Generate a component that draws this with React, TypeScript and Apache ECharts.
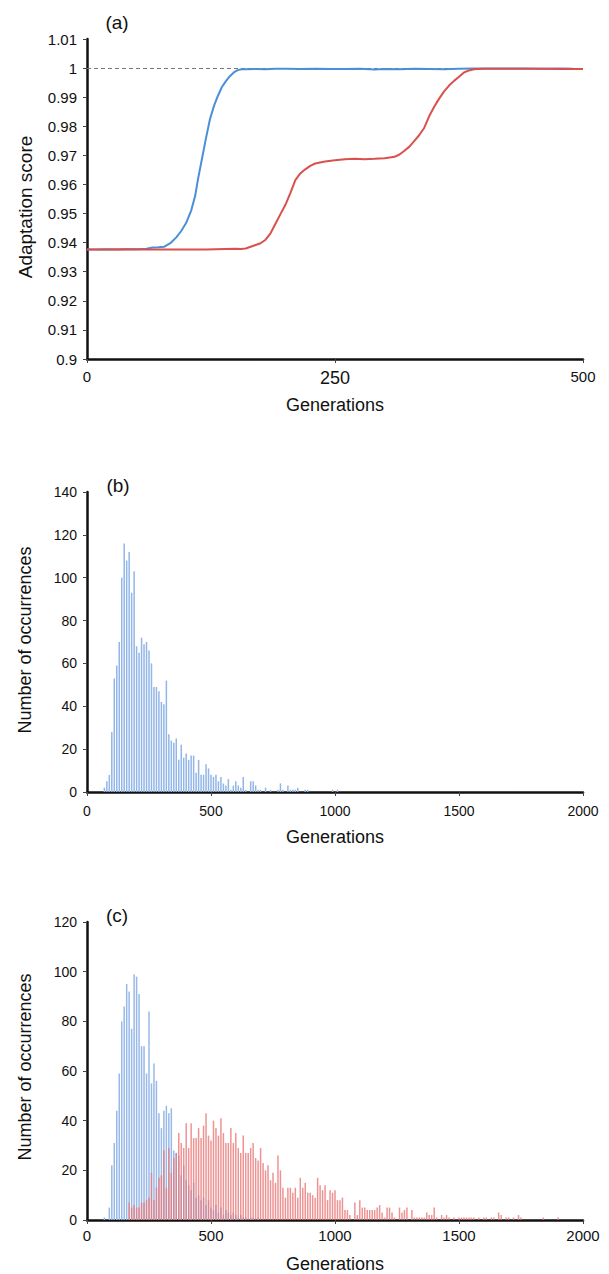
import React, { useEffect, useRef } from "react";
import * as echarts from "echarts";

// ---------- Panel (a): adaptation score over generations ----------
const blueGen = [0, 10, 20, 30, 40, 50, 60, 66, 72, 78, 84, 90, 95, 100, 105, 109, 112, 116, 120, 124, 128, 132, 136, 140, 144, 148, 152, 156, 160, 170, 180, 190, 200, 215, 230, 245, 260, 275, 290, 300, 315, 330, 345, 360, 375, 390, 400, 420, 440, 460, 480, 490];
const blueScore = [0.9376, 0.9376, 0.9377, 0.9376, 0.9377, 0.9377, 0.9379, 0.9383, 0.9384, 0.9386, 0.9398, 0.9418, 0.944, 0.9468, 0.951, 0.956, 0.962, 0.969, 0.976, 0.9825, 0.987, 0.9905, 0.9935, 0.9955, 0.9972, 0.9985, 0.9993, 0.9996, 0.9996, 0.9997, 0.9996, 0.9998, 0.9998, 0.9997, 0.9998, 0.9997, 0.9997, 0.9998, 0.9995, 0.9997, 0.9996, 0.9998, 0.9997, 0.9996, 0.9998, 0.9999, 0.9999, 0.9999, 0.9999, 0.9998, 0.9999, 0.9998];

const redGen = [0, 20, 40, 60, 80, 100, 120, 140, 150, 155, 160, 165, 170, 175, 180, 185, 190, 195, 200, 205, 210, 215, 220, 225, 230, 240, 250, 260, 270, 280, 290, 300, 310, 315, 320, 325, 330, 335, 340, 345, 350, 355, 360, 365, 370, 375, 380, 385, 390, 400, 420, 440, 460, 480, 500];
const redScore = [0.9376, 0.9376, 0.9377, 0.9376, 0.9376, 0.9376, 0.9376, 0.9378, 0.9379, 0.9378, 0.938, 0.9386, 0.9392, 0.9398, 0.941, 0.9432, 0.9465, 0.9498, 0.953, 0.957, 0.9615, 0.9638, 0.9652, 0.9664, 0.9672, 0.9679, 0.9683, 0.9687, 0.9688, 0.9687, 0.9688, 0.969, 0.9695, 0.9703, 0.9716, 0.973, 0.975, 0.977, 0.9795, 0.9835, 0.9867, 0.9895, 0.992, 0.994, 0.9956, 0.997, 0.9985, 0.9992, 0.9996, 0.9998, 0.9998, 0.9998, 0.9998, 0.9997, 0.9997];

const scoreTicksMin = 0.9;
const scoreTicksMax = 1.01;
const targetScore = 1;

// ---------- Panel (b): histogram (blue), bins of 10 generations ----------
const binWidth = 10;
const histBStart = 70;
const histBCounts = [2, 5, 8, 28, 53, 59, 70, 100, 116, 108, 112, 93, 103, 68, 65, 72, 69, 70, 66, 60, 49, 49, 47, 42, 41, 52, 27, 24, 23, 25, 15, 22, 16, 18, 15, 17, 17, 9, 15, 8, 8, 13, 11, 8, 7, 8, 5, 7, 4, 3, 6, 1, 3, 5, 3, 2, 7, 1, 0, 5, 5, 3, 1, 1, 0, 2, 0, 1, 0, 0, 1, 4, 1, 0, 3, 1, 1, 1, 2, 0, 0, 1, 1, 0, 0, 0, 0, 0, 0, 0, 0, 0, 1, 0, 1];

// ---------- Panel (c): blue and red histograms ----------
const histCBlueStart = 70;
const histCBlueCounts = [1, 0, 5, 22, 31, 44, 59, 80, 86, 95, 92, 77, 99, 98, 91, 70, 70, 59, 84, 55, 63, 56, 43, 37, 44, 46, 43, 45, 28, 27, 26, 18, 22, 16, 14, 12, 15, 9, 10, 8, 9, 6, 8, 5, 4, 6, 3, 5, 2, 4, 3, 2, 3, 2, 1, 2, 1, 1, 0, 1, 1, 0, 1];
const histCRedStart = 170;
const histCRedCounts = [7, 5, 6, 5, 5, 7, 7, 8, 9, 19, 8, 13, 17, 18, 28, 13, 29, 19, 25, 27, 35, 31, 29, 39, 29, 39, 33, 33, 37, 33, 38, 43, 34, 32, 40, 37, 34, 41, 35, 31, 31, 37, 31, 35, 29, 27, 34, 27, 27, 29, 31, 25, 24, 29, 23, 20, 22, 16, 19, 15, 26, 20, 13, 9, 13, 13, 11, 13, 9, 17, 13, 15, 11, 11, 10, 9, 17, 14, 12, 14, 8, 12, 11, 12, 8, 8, 9, 4, 4, 2, 0, 7, 2, 8, 5, 5, 4, 4, 4, 4, 5, 6, 3, 1, 5, 5, 3, 1, 0, 5, 3, 4, 5, 0, 4, 1, 1, 1, 1, 1, 3, 2, 2, 5, 1, 0, 2, 1, 2, 1, 0, 1, 0, 1, 1, 1, 1, 1, 1, 1, 0, 1, 0, 1, 1, 0, 1, 1, 0, 3, 2, 0, 1, 1, 0, 1, 0, 2, 1, 0, 0, 0, 0, 0, 0, 0, 0, 1, 0, 0, 0, 0, 0, 1];

const panelLabels = ["(a)", "(b)", "(c)"];
const yTitles = ["Adaptation score", "Number of occurrences", "Number of occurrences"];
const xTitle = "Generations";

const FONT = "'Liberation Sans', Arial, Helvetica, sans-serif";

function pairs(xs: number[], ys: number[]) {
  return xs.map((x, i) => [x, ys[i]]);
}
function bins(start: number, counts: number[]) {
  return counts.map((c, i) => [start + i * binWidth, c]);
}

export default function App() {
  const ref = useRef<HTMLDivElement>(null);

  useEffect(() => {
    document.body.style.margin = "0";
    if (!ref.current) return;
    const chart = echarts.init(ref.current, undefined, { renderer: "svg" });

    const axisLine = { show: true, lineStyle: { color: "#111", width: 2.5 } };
    const axisTick = { show: true, inside: false, length: 4, lineStyle: { color: "#444", width: 1 } };
    const plain = (v: number) => String(v);

    const option: any = {
      animation: false,
      backgroundColor: "#fff",
      textStyle: { fontFamily: FONT },
      grid: [
        { left: 87, top: 39, width: 496, height: 320 },
        { left: 87, top: 492, width: 496, height: 300 },
        { left: 87, top: 922, width: 496, height: 300 },
      ],
      xAxis: [
        {
          type: "value", gridIndex: 0, min: 0, max: 500, interval: 250,
          axisLine, axisTick, splitLine: { show: false },
          axisLabel: {
            margin: 10, color: "#111",
            formatter: (v: number) => (v === 250 ? `{b|${v}}` : `{s|${v}}`),
            rich: { s: { fontSize: 15, fontFamily: FONT, color: "#111" }, b: { fontSize: 18, fontFamily: FONT, color: "#111" } },
          },
          name: xTitle, nameLocation: "middle", nameGap: 37,
          nameTextStyle: { fontSize: 18, color: "#111", fontFamily: FONT },
        },
        {
          type: "value", gridIndex: 1, min: 0, max: 2000, interval: 500,
          axisLine, axisTick, splitLine: { show: false },
          axisLabel: { margin: 12, fontSize: 14, color: "#111", fontFamily: FONT, formatter: plain },
          name: xTitle, nameLocation: "middle", nameGap: 36,
          nameTextStyle: { fontSize: 18, color: "#111", fontFamily: FONT },
        },
        {
          type: "value", gridIndex: 2, min: 0, max: 2000, interval: 500,
          axisLine, axisTick, splitLine: { show: false },
          axisLabel: { margin: 8, fontSize: 15, color: "#111", fontFamily: FONT, formatter: plain },
          name: xTitle, nameLocation: "middle", nameGap: 35,
          nameTextStyle: { fontSize: 18, color: "#111", fontFamily: FONT },
        },
      ],
      yAxis: [
        {
          type: "value", gridIndex: 0, min: scoreTicksMin, max: scoreTicksMax, interval: 0.01,
          axisLine, axisTick, splitLine: { show: false },
          axisLabel: { margin: 10, fontSize: 15, color: "#111", fontFamily: FONT, formatter: (v: number) => String(+v.toFixed(2)) },
        },
        {
          type: "value", gridIndex: 1, min: 0, max: 140, interval: 20,
          axisLine, axisTick, splitLine: { show: false },
          axisLabel: { margin: 10, fontSize: 14, color: "#111", fontFamily: FONT, formatter: plain },
        },
        {
          type: "value", gridIndex: 2, min: 0, max: 120, interval: 20,
          axisLine, axisTick, splitLine: { show: false },
          axisLabel: { margin: 10, fontSize: 14, color: "#111", fontFamily: FONT, formatter: plain },
        },
      ],
      graphic: [
        { type: "text", x: 117, y: 22, style: { text: panelLabels[0], font: `19px ${FONT}`, fill: "#111", textAlign: "center", textVerticalAlign: "middle" } },
        { type: "text", x: 118, y: 485, style: { text: panelLabels[1], font: `19px ${FONT}`, fill: "#111", textAlign: "center", textVerticalAlign: "middle" } },
        { type: "text", x: 117, y: 915, style: { text: panelLabels[2], font: `19px ${FONT}`, fill: "#111", textAlign: "center", textVerticalAlign: "middle" } },
        { type: "text", x: 25, y: 207, rotation: Math.PI / 2, style: { text: yTitles[0], font: `19px ${FONT}`, fill: "#111", textAlign: "center", textVerticalAlign: "middle" } },
        { type: "text", x: 25, y: 640, rotation: Math.PI / 2, style: { text: yTitles[1], font: `18px ${FONT}`, fill: "#111", textAlign: "center", textVerticalAlign: "middle" } },
        { type: "text", x: 25, y: 1067, rotation: Math.PI / 2, style: { text: yTitles[2], font: `18px ${FONT}`, fill: "#111", textAlign: "center", textVerticalAlign: "middle" } },
      ],
      series: [
        {
          type: "line", xAxisIndex: 0, yAxisIndex: 0, data: pairs(blueGen, blueScore),
          showSymbol: false, symbol: "none", lineStyle: { color: "#4a8fd8", width: 2 }, z: 3,
          markLine: {
            silent: true, symbol: ["none", "none"], label: { show: false },
            lineStyle: { type: [4, 3], color: "#777", width: 1 },
            data: [{ yAxis: targetScore }], z: 1,
          },
        },
        {
          type: "line", xAxisIndex: 0, yAxisIndex: 0, data: pairs(redGen, redScore),
          showSymbol: false, symbol: "none", lineStyle: { color: "#d9504c", width: 2 }, z: 4,
        },
        {
          type: "bar", xAxisIndex: 1, yAxisIndex: 1, data: bins(histBStart, histBCounts),
          barWidth: 1.5, itemStyle: { color: "#92b6e8" },
        },
        {
          type: "bar", xAxisIndex: 2, yAxisIndex: 2, data: bins(histCBlueStart, histCBlueCounts),
          barWidth: 1.5, barGap: "-100%", itemStyle: { color: "#97b9e9" },
        },
        {
          type: "bar", xAxisIndex: 2, yAxisIndex: 2, data: bins(histCRedStart, histCRedCounts),
          barWidth: 1.5, barGap: "-100%", itemStyle: { color: "rgba(234,120,120,0.8)" },
        },
      ],
    };

    chart.setOption(option);
    return () => chart.dispose();
  }, []);

  return <div ref={ref} style={{ width: 609, height: 1274 }} />;
}
